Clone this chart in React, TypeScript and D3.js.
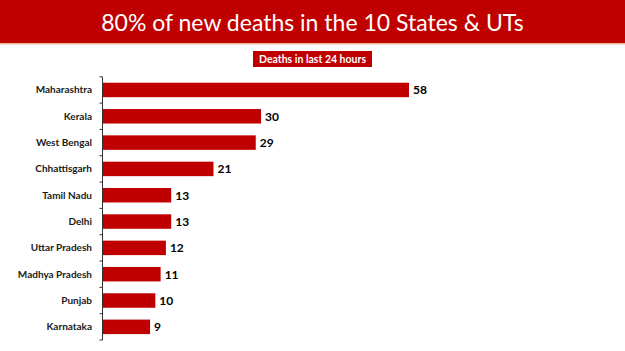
import React from "react";
import * as d3 from "d3";

const states = ["Maharashtra", "Kerala", "West Bengal", "Chhattisgarh", "Tamil Nadu", "Delhi", "Uttar Pradesh", "Madhya Pradesh", "Punjab", "Karnataka"];
const deaths = [58, 30, 29, 21, 13, 13, 12, 11, 10, 9];
const title = "80% of new deaths in the 10 States & UTs";
const subtitle = "Deaths in last 24 hours";

const W = 625;
const H = 351;
const RED = "#C00000";

export default function App() {
  const x = d3.scaleLinear().domain([0, 58]).range([102.5, 409]);
  const y = d3.scaleBand<string>().domain(states).range([76.8, 340]).paddingInner(0.45).paddingOuter(0.225);
  const step = y.step();
  const tickYs = d3.range(states.length + 1).map((i) => 76.8 + i * step);
  const font = "Lato, 'Open Sans', sans-serif";
  return (
    <svg width={W} height={H} style={{ position: "absolute", left: 0, top: 0, background: "#fff" }}>
      <rect x={0} y={0} width={W} height={43} fill={RED} />
      <rect x={0} y={43} width={W} height={1.5} fill="#F0B8A0" />
      <text x={W / 2} y={30.5} textAnchor="middle" fill="#fff" fontFamily={font} fontSize={23}>
        {title}
      </text>
      <rect x={253} y={51} width={119} height={16} fill={RED} />
      <text x={312.5} y={63} textAnchor="middle" fill="#fff" fontFamily={font} fontWeight="bold" fontSize={10.5}>
        {subtitle}
      </text>
      {states.map((s, i) => (
        <g key={s}>
          <rect x={x(0)} y={y(s)} width={x(deaths[i]) - x(0)} height={y.bandwidth()} fill={RED} />
          <text x={92} y={(y(s) as number) + y.bandwidth() / 2} dy="0.35em" textAnchor="end" fontFamily={font} fontWeight="bold" fontSize={10} fill="#1a1a1a">
            {s}
          </text>
          <text x={x(deaths[i]) + 4} y={(y(s) as number) + y.bandwidth() / 2} dy="0.36em" textAnchor="start" fontFamily={font} fontWeight="bold" fontSize={12} fill="#000">
            {deaths[i]}
          </text>
        </g>
      ))}
      <line x1={102.5} x2={102.5} y1={76.8} y2={340} stroke="#333" strokeWidth={1} />
      {tickYs.map((t, i) => (
        <line key={i} x1={99.5} x2={102.5} y1={t} y2={t} stroke="#333" strokeWidth={1} />
      ))}
    </svg>
  );
}
